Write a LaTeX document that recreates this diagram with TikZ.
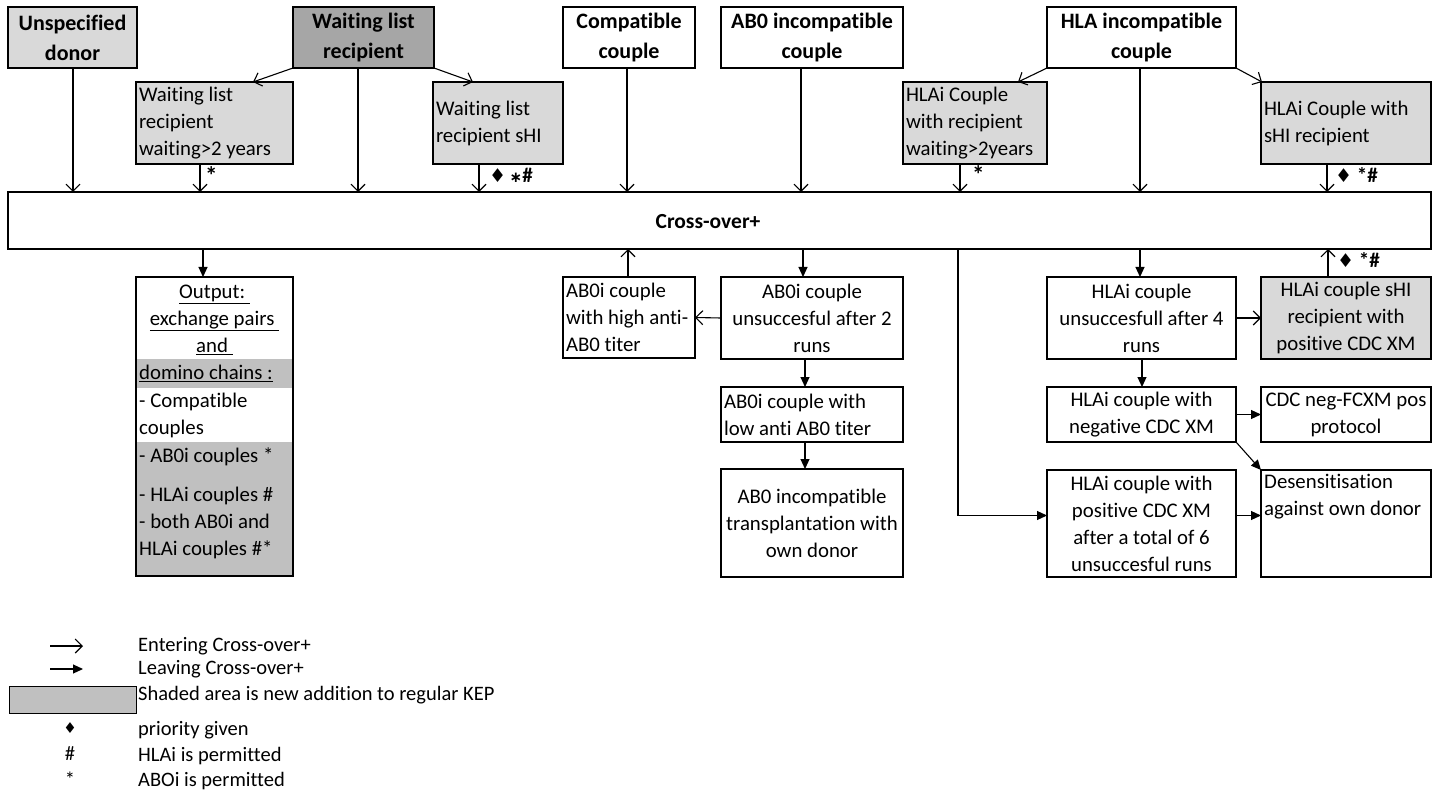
\documentclass[tikz,border=0pt]{standalone}
\usepackage{fontspec}
\setmainfont{Carlito}[Ligatures={NoCommon}]
\newfontfamily\symf{DejaVu Sans}
\usetikzlibrary{arrows.meta}
\definecolor{lightg}{HTML}{D9D9D9}
\definecolor{darkg}{HTML}{A6A6A6}
\definecolor{bandg}{HTML}{C0C0C0}
\newcommand{\dia}{{\symf\fontsize{19}{19}\selectfont ♦}}
\begin{document}
\begin{tikzpicture}[x=1pt,y=-1pt,
  font=\fontsize{20.8}{27}\selectfont,
  box/.style={draw, line width=1.8pt, anchor=north west, inner xsep=4pt, inner ysep=0pt, outer sep=0pt},
  hdr/.style={box, font=\bfseries\fontsize{22}{30}\selectfont, align=center},
  lbox/.style={box, align=flush left, inner xsep=3pt},
  cbox/.style={box, align=center},
  ent/.style={line width=1.1pt, -{Straight Barb[length=7pt,width=14pt,line width=1.1pt]}},
  lev/.style={line width=1.1pt, -{Triangle[length=10pt,width=9pt]}},
  txt/.style={inner sep=0pt, anchor=mid west},
  lbl/.style={inner sep=0pt, anchor=mid west, font=\bfseries\fontsize{21}{22}\selectfont},
  star/.style={inner sep=0pt, anchor=mid west, font=\bfseries\fontsize{25}{25}\selectfont},
  leg/.style={inner sep=0pt, anchor=mid west, font=\fontsize{20.5}{22}\selectfont}
]
\useasboundingbox (0,0) rectangle (1440,794);
% ---------- top row ----------
\node[hdr, fill=lightg, minimum width=129pt, minimum height=61pt] (ud) at (8,7) {Unspecified\\donor};
\node[hdr, fill=darkg, minimum width=141pt, minimum height=61pt] (wlr) at (293,7) {Waiting list\\recipient};
\node[hdr, minimum width=132pt, minimum height=61pt] (cc) at (563,7) {Compatible\\couple};
\node[hdr, minimum width=182pt, minimum height=61pt] (ab) at (721,7) {AB0 incompatible\\couple};
\node[hdr, minimum width=189pt, minimum height=61pt] (hla) at (1047,7) {HLA incompatible\\couple};
% ---------- second row ----------
\node[lbox, fill=lightg, minimum width=157pt, minimum height=82pt, text width=151pt] (wl2) at (136,82) {\mbox{Waiting list}\\\mbox{recipient}\\\mbox{waiting>2 years}};
\node[lbox, fill=lightg, minimum width=130pt, minimum height=82pt, text width=124pt] (wls) at (433,82) {\mbox{Waiting list}\\\mbox{recipient sHI}};
\node[lbox, fill=lightg, minimum width=144pt, minimum height=82pt, text width=138pt] (hw2) at (903,82) {\mbox{HLAi Couple}\\\mbox{with recipient}\\\mbox{waiting>2years}};
\node[lbox, fill=lightg, minimum width=170pt, minimum height=82pt, text width=164pt] (hsh) at (1261,82) {\mbox{HLAi Couple with}\\\mbox{sHI recipient}};
% ---------- cross-over ----------
\node[box, minimum width=1423pt, minimum height=57pt] (cross) at (8,192) {};
\node[inner sep=0pt, font=\bfseries\fontsize{21.5}{24}\selectfont] (ct) at (708,222) {Cross-over+};
% ---------- output box ----------
\fill[bandg] (137,359) rectangle (292,388);
\fill[bandg] (137,442) rectangle (292,576);
\node[box, minimum width=157pt, minimum height=299pt] (out) at (136,277) {};
\node[inner sep=0pt, anchor=mid] (o1) at (214.5,296) {\underline{Output:\ }};
\node[inner sep=0pt, anchor=mid] (o2) at (214.5,323) {\underline{exchange pairs\ }};
\node[inner sep=0pt, anchor=mid] (o3) at (214.5,350) {\underline{and\ }};
\node[txt] (o4) at (139,377) {\underline{domino chains :}};
\node[txt] (o5) at (139,405) {- Compatible};
\node[txt] (o6) at (139,432) {couples};
\node[txt] (o7) at (139,460) {- AB0i couples *};
\node[txt] (o8) at (139,499) {- HLAi couples \#};
\node[txt] (o9) at (139,526) {- both AB0i and};
\node[txt] (o10) at (139,553) {HLAi couples \#*};
% ---------- AB0 column ----------
\node[lbox, minimum width=132pt, minimum height=81pt, text width=126pt] (abh) at (563,277) {\mbox{AB0i couple}\\\mbox{with high anti-}\\\mbox{AB0 titer}};
\node[cbox, minimum width=182pt, minimum height=82pt] (abu) at (721,277) {AB0i couple\\unsuccesful after 2\\runs};
\node[lbox, minimum width=182pt, minimum height=55pt, text width=176pt] (abl) at (721,387) {\mbox{AB0i couple with}\\\mbox{low anti AB0 titer}};
\node[cbox, minimum width=182pt, minimum height=108pt] (abt) at (721,469) {AB0 incompatible\\transplantation with\\own donor};
% ---------- HLA column ----------
\node[cbox, minimum width=189pt, minimum height=82pt] (hu) at (1047,277) {HLAi couple\\unsuccesfull after 4\\runs};
\node[cbox, fill=lightg, minimum width=170pt, minimum height=82pt] (hpc) at (1261,277) {HLAi couple sHI\\recipient with\\positive CDC XM};
\node[cbox, minimum width=189pt, minimum height=55pt] (hn) at (1047,387) {HLAi couple with\\negative CDC XM};
\node[cbox, minimum width=170pt, minimum height=55pt] (cdc) at (1261,387) {CDC neg-FCXM pos\\protocol};
\node[cbox, minimum width=189pt, minimum height=107pt] (hp6) at (1047,470) {HLAi couple with\\positive CDC XM\\after a total of 6\\unsuccesful runs};
\node[box, minimum width=170pt, minimum height=107pt] (des) at (1261,470) {};
\node[inner sep=0pt, anchor=north west, align=flush left] (dest) at (1264,474) {Desensitisation\\against own donor};
% ---------- helper x coordinates ----------
\coordinate (x73) at (73,0);
\coordinate (x200) at (200,0);
\coordinate (x203) at (203,0);
\coordinate (x358) at (358,0);
\coordinate (x479) at (479,0);
\coordinate (x627) at (627,0);
\coordinate (x628) at (628,0);
\coordinate (x801) at (801,0);
\coordinate (x803) at (803,0);
\coordinate (x805) at (805,0);
\coordinate (x958) at (958,0);
\coordinate (x960) at (960,0);
\coordinate (x1140) at (1140,0);
\coordinate (x1142) at (1142,0);
\coordinate (x1327) at (1327,0);
\coordinate (x1328) at (1328,0);
% ---------- entering arrows ----------
\draw[ent] (x73 |- ud.south) -- (x73 |- cross.north);
\draw[ent] (wlr.south west) -- ([xshift=-40pt]wl2.north east);
\draw[ent] (wlr.south east) -- ([xshift=40pt]wls.north west);
\draw[ent] (x358 |- wlr.south) -- (x358 |- cross.north);
\draw[ent] (x200 |- wl2.south) -- (x200 |- cross.north);
\draw[ent] (x479 |- wls.south) -- (x479 |- cross.north);
\draw[ent] (x627 |- cc.south) -- (x627 |- cross.north);
\draw[ent] (x801 |- ab.south) -- (x801 |- cross.north);
\draw[ent] (hla.south west) -- ([xshift=-29pt]hw2.north east);
\draw[ent] (x1140 |- hla.south) -- (x1140 |- cross.north);
\draw[ent] (hla.south east) -- ([xshift=1pt]hsh.north west);
\draw[ent] (x960 |- hw2.south) -- (x960 |- cross.north);
\draw[ent] (x1327 |- hsh.south) -- (x1327 |- cross.north);
\draw[ent] (x628 |- abh.north) -- (x628 |- cross.south);
\draw[ent] (abu.west) -- (abh.east);
\draw[ent] (hu.east) -- (hpc.west);
\draw[ent] (x1328 |- hpc.north) -- (x1328 |- cross.south);
% labels
\node[star] (s1) at (205,182) {*};
\node[lbl] (s2) at (489,180) {\dia\,{\symf\bfseries\fontsize{15}{15}\selectfont ∗}\#};
\node[star] (s3) at (972,181) {*};
\node[lbl] (s4) at (1335,180) {\dia\ *\#};
\node[lbl] (s5) at (1337,265) {\dia\ *\#};
% ---------- leaving arrows ----------
\draw[lev] (x203 |- cross.south) -- (x203 |- out.north);
\draw[lev] (x803 |- cross.south) -- (x803 |- abu.north);
\draw[lev] (x805 |- abu.south) -- (x805 |- abl.north);
\draw[lev] (x805 |- abl.south) -- (x805 |- abt.north);
\draw[lev] (x1140 |- cross.south) -- (x1140 |- hu.north);
\draw[lev] (x1142 |- hu.south) -- (x1142 |- hn.north);
\draw[lev] (hn.east) -- (cdc.west);
\draw[lev] (hn.south east) -- (des.north west);
\coordinate (h6w) at ([yshift=8pt]hp6.west);
\coordinate (h6e) at ([yshift=8pt]hp6.east);
\draw[lev] (x958 |- cross.south) |- (h6w);
\draw[lev] (h6e) -- (h6e -| des.west);
% ---------- legend ----------
\coordinate (la1) at (50,646); \coordinate (la2) at (83,646);
\coordinate (lb1) at (50,669); \coordinate (lb2) at (83,669);
\draw[ent] (la1) -- (la2);
\draw[lev] (lb1) -- (lb2);
\node[draw, line width=0.9pt, fill=bandg, anchor=north west, minimum width=127pt, minimum height=27pt, inner sep=0pt, outer sep=0pt] (lrect) at (9,686) {};
\node[leg] (t1) at (138,649) {Entering Cross-over+};
\node[leg] (t2) at (138,672) {Leaving Cross-over+};
\node[leg] (t3) at (138,698) {Shaded area is new addition to regular KEP};
\node[leg] (t4) at (138,733) {priority given};
\node[leg] (t5) at (138,759) {HLAi is permitted};
\node[leg] (t6) at (138,784) {ABOi is permitted};
\node[inner sep=0pt, anchor=mid, font=\fontsize{15}{15}\selectfont] (d4) at (70,731) {{\symf ♦}};
\node[inner sep=0pt, anchor=mid, font=\fontsize{20.5}{22}\selectfont] (d5) at (70,758) {\#};
\node[inner sep=0pt, anchor=mid, font=\fontsize{20.5}{22}\selectfont] (d6) at (70,784) {*};
\end{tikzpicture}
\end{document}
